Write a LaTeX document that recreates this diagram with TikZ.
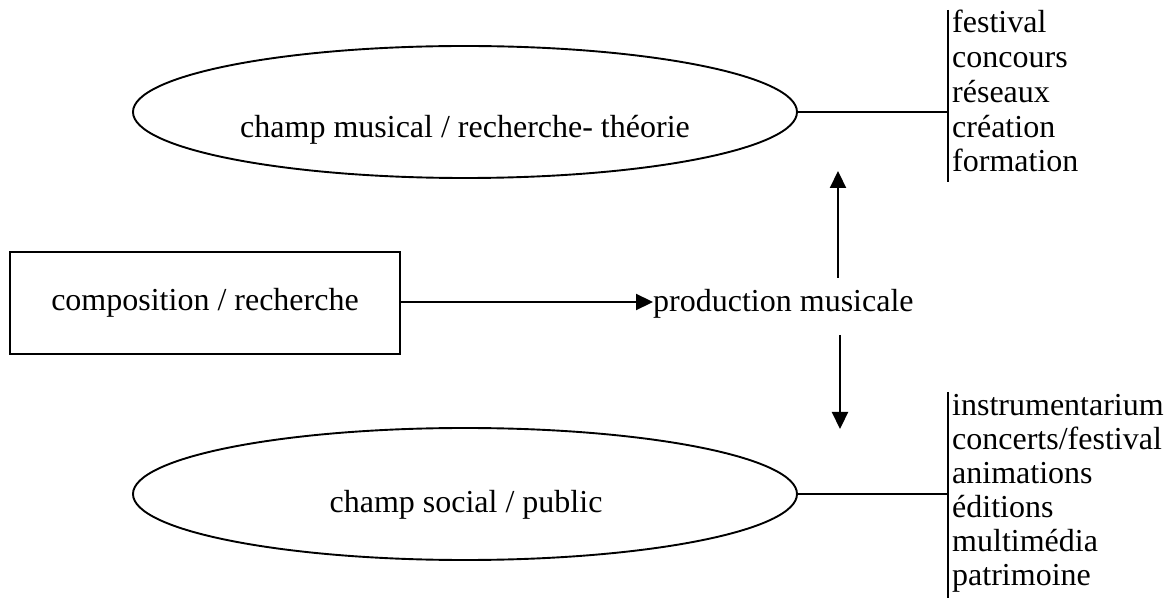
\documentclass[tikz,border=0pt]{standalone}
\usepackage{fontspec}
\setmainfont{Liberation Serif}
\usetikzlibrary{arrows.meta,shapes.geometric}
\begin{document}
\begin{tikzpicture}[x=1pt,y=-1pt,
  every node/.style={font=\fontsize{32}{34.7}\selectfont, inner sep=0pt},
  field/.style={draw, ellipse, line width=1.9pt, minimum width=664pt, minimum height=132pt},
  srcbox/.style={draw, rectangle, line width=2.6pt, minimum width=390pt, minimum height=102pt},
  conn/.style={line width=2.3pt},
  arr/.style={line width=2.2pt, -{Triangle[length=17pt,width=16pt]}},
  item/.style={anchor=base west}
]
\useasboundingbox (0,0) rectangle (1170,601);

% top ellipse
\node[field] (musical) at (465,112) {};
\node[anchor=base] (musicaltxt) at (465,138) {champ musical / recherche- théorie};
% bottom ellipse
\node[field] (social) at (465,494) {};
\node[anchor=base] (socialtxt) at (466,512) {champ social / public};

% box
\node[srcbox] (compo) at (205,303) {composition / recherche};

% production
\node[anchor=base west] (prod) at (653,312) {production musicale};

% arrows
\draw[arr] (compo.east |- 0,302) -- (prod.west |- 0,302);
\coordinate (upstart) at (838,278);
\coordinate (upend) at (838,171);
\draw[arr] (upstart) -- (upend);
\coordinate (downstart) at (840,335);
\coordinate (downend) at (840,429);
\draw[arr] (downstart) -- (downend);

% top bar and list
\coordinate (tbtop) at (948,10);
\coordinate (tbbot) at (948,182);
\coordinate (tbmid) at (948,112);
\draw[conn] (tbtop) -- (tbbot);
\draw[conn] (musical.east) -- (tbmid);
\foreach \t [count=\i] in {festival,concours,réseaux,création,formation}
  \node[item] (top\i) at (952,{33+34.7*(\i-1)}) {\t};

% bottom bar and list
\coordinate (bbtop) at (948,392);
\coordinate (bbbot) at (948,598);
\coordinate (bbmid) at (948,494);
\draw[conn] (bbtop) -- (bbbot);
\draw[conn] (social.east) -- (bbmid);
\foreach \t [count=\i] in {instrumentarium,concerts/festival,animations,éditions,multimédia,patrimoine}
  \node[item] (bot\i) at (952,{416+33.8*(\i-1)}) {\t};
\end{tikzpicture}
\end{document}
